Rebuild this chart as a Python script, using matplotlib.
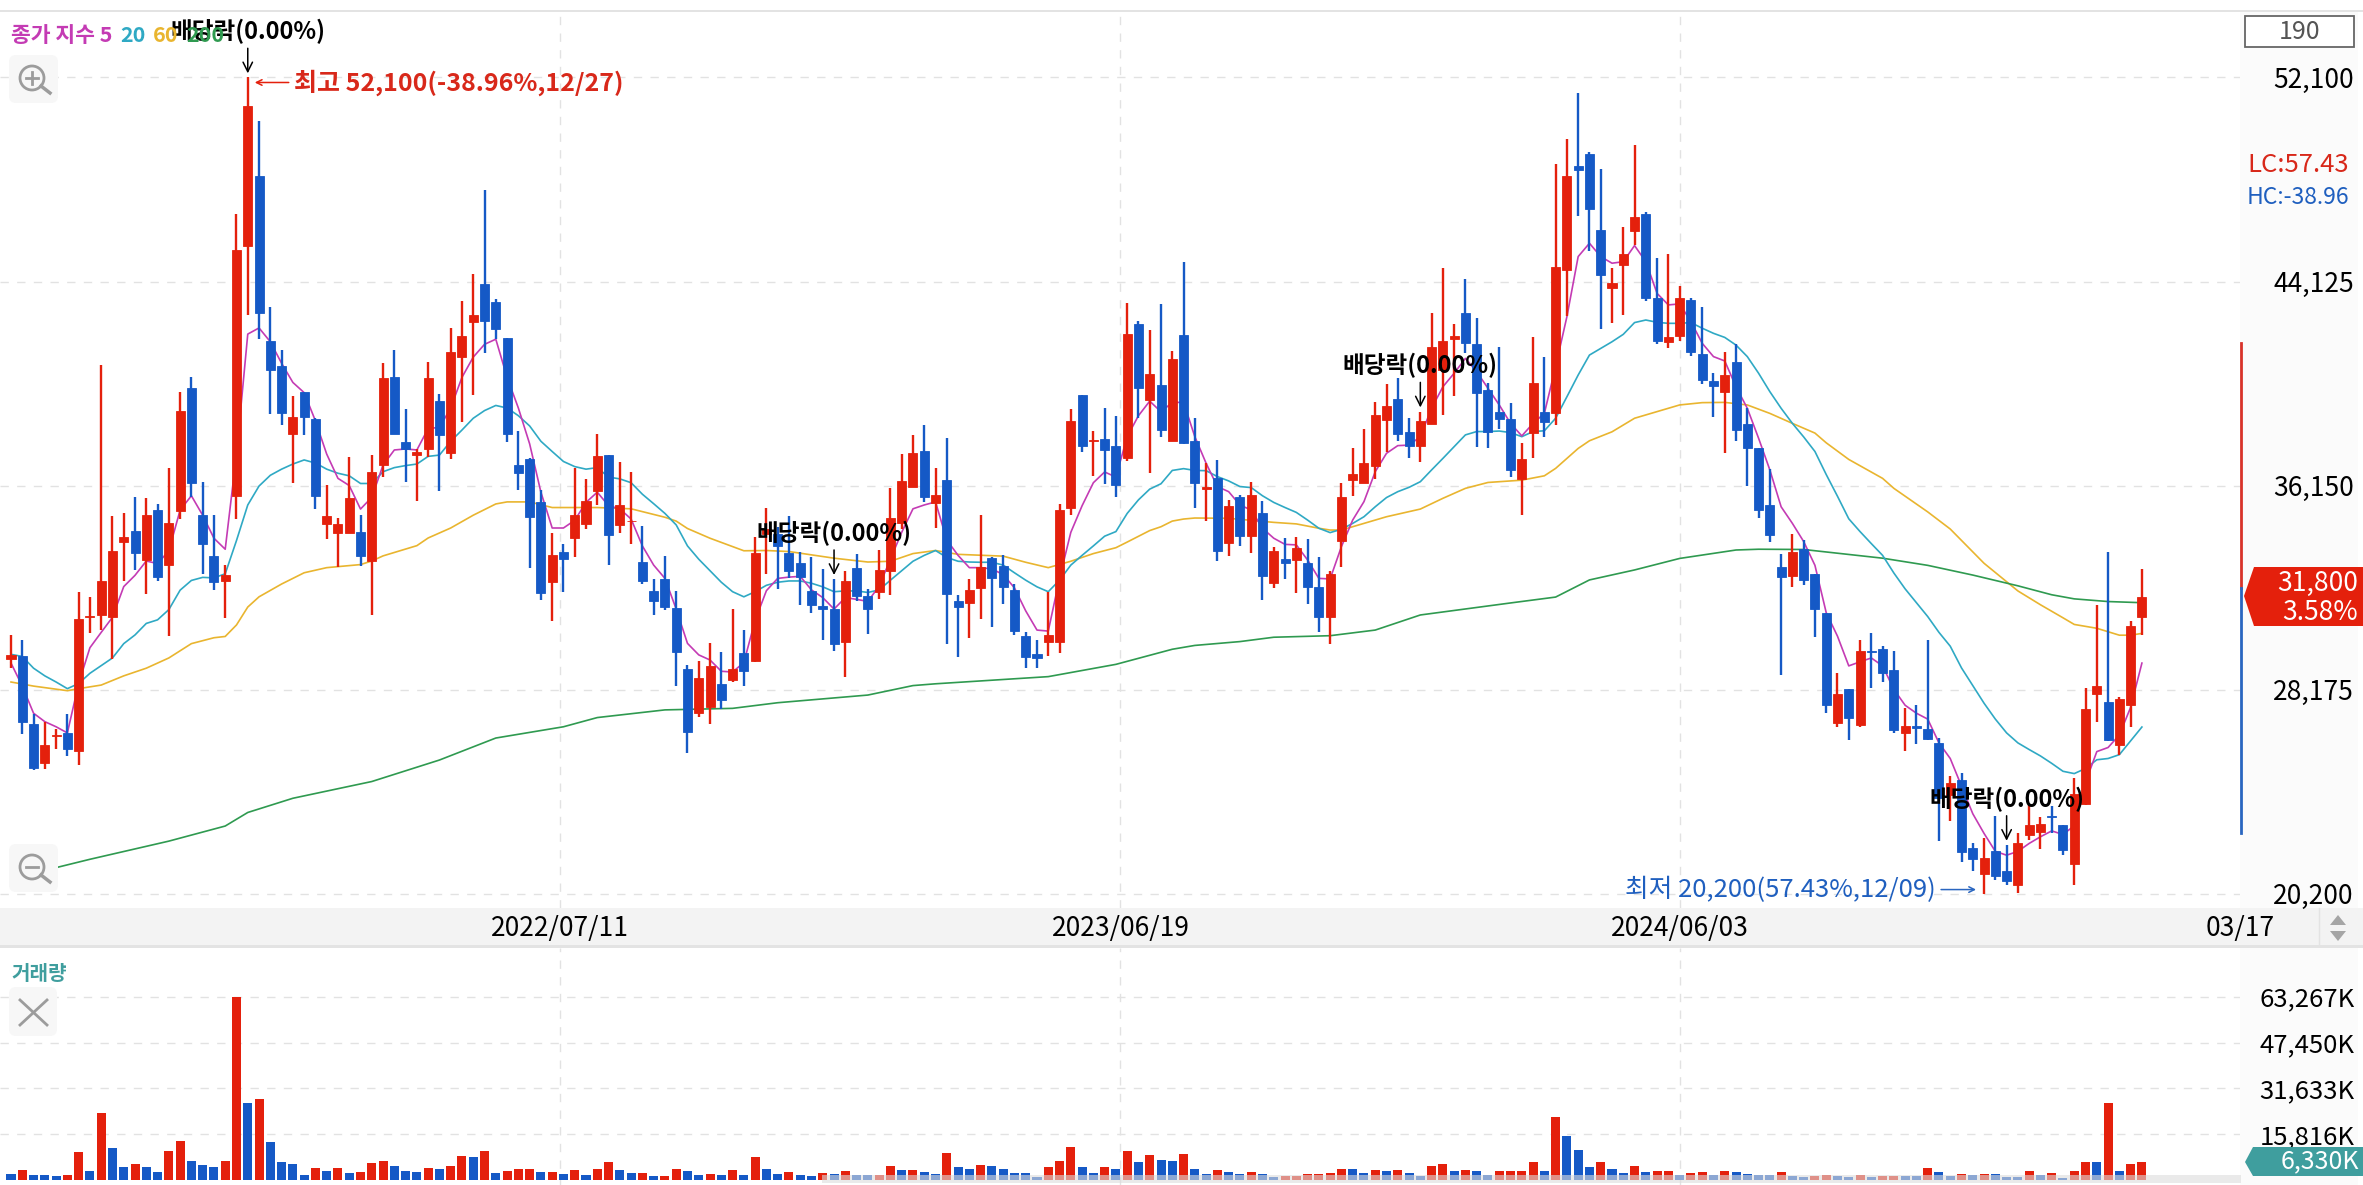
import matplotlib
matplotlib.use('Agg')
import matplotlib.pyplot as plt
import matplotlib.transforms as mtransforms
from matplotlib.patches import Rectangle, Polygon, Circle, FancyBboxPatch
from matplotlib.lines import Line2D

plt.rcParams['font.family'] = ['Noto Sans CJK KR', 'DejaVu Sans']

opens = [29350,29470,26820,25320,26340,26480,25760,31000,31100,31000,
         33930,34390,33240,35190,33040,35150,39980,34990,33400,32400,
         35730,45520,48250,41810,40810,38180,39820,38740,34650,34290,
         34290,34330,33200,36950,40400,37840,37330,37580,39460,37420,
         41170,42530,44040,43310,41930,36950,37170,35490,32360,33540,
         34090,34630,35930,37340,34610,34750,33180,32030,32490,31370,
         28980,27250,27480,28380,28540,29620,29290,34240,34240,33520,
         33120,32040,31430,31320,30050,32940,31850,32000,32820,34690,
         36110,37490,35470,36380,31620,31550,32150,33310,33000,32070,
         30280,29570,30050,30050,35260,39700,37910,37980,37710,37220,
         42470,39480,40080,37910,42020,37910,36010,36460,33920,35690,
         34190,35060,32330,33280,33240,33130,32170,31000,34000,36370,
         36260,36910,38710,39530,38240,37710,38560,40670,41870,42910,
         41700,39880,39010,38740,36390,38220,39040,38970,44580,48650,
         49100,46140,43860,44770,46110,46750,43490,41760,42010,43400,
         41290,40240,39820,40990,38540,37600,35390,32960,32600,33650,
         32680,31180,26860,28180,26790,29690,29760,28920,26490,26740,
         26620,26100,24050,24640,21990,20950,21880,21080,20540,22490,
         22590,23230,22880,21340,23700,27990,27670,26020,27560,31000]
closes = [29510,26920,25120,26020,26400,25860,30940,31040,32400,33600,
          34130,33500,34990,32560,34690,39080,36250,33880,32360,32640,
          45360,51000,42890,40670,38980,38840,38820,35730,34950,34650,
          35650,33400,36690,40360,38180,37580,37480,40360,38120,41370,
          41990,42810,42570,42270,38180,36630,34930,31960,33440,33260,
          34990,35530,37290,34210,35390,34780,32400,31650,31400,29650,
          26500,28640,29100,27770,28980,28890,33520,34470,33790,32790,
          32590,31470,31310,29950,32420,31850,31310,32860,34870,36340,
          37430,35710,35770,31920,31400,32070,32970,32520,32180,30460,
          29450,29410,30310,35180,38680,37710,37940,37530,36170,42080,
          39970,40520,38320,41080,37800,36260,36090,33600,35350,34190,
          35780,32610,33590,33110,33700,32200,31000,32690,35690,36590,
          37040,38910,39260,38160,37710,38690,41580,41800,42010,41710,
          39750,38260,38740,36760,37190,40150,38650,44690,48250,48480,
          46960,44380,44050,45190,46660,43470,41810,41940,43480,41380,
          40280,40050,40470,38320,37630,35190,34220,32570,33570,32450,
          31310,27560,28020,27070,29670,29640,28820,26600,26740,26680,
          26250,23920,24530,21840,21540,21580,20890,20690,22160,22880,
          22920,23190,21900,24080,27420,28330,26200,27820,30670,31800]
highs = [30310,30110,27220,26920,26620,27220,32000,31800,40870,34950,
         35090,35690,35650,35430,36850,39820,40380,36290,34990,33060,
         46760,52100,50410,43130,41450,39640,39820,38780,36190,34890,
         37250,34990,37340,40930,41450,39140,37580,40970,39740,42310,
         43370,44400,47710,43430,41930,38280,37230,35990,34290,33860,
         36850,36390,38180,37340,37080,36680,34580,32490,33390,32020,
         29130,29290,29980,29630,31320,30490,34120,35290,34540,34940,
         33570,33340,32890,32490,32820,33490,32120,33640,36040,37380,
         38130,38530,36830,38000,31880,32480,34990,33340,33420,32300,
         30430,30100,31970,35440,39130,39700,38280,39180,38880,43290,
         42570,42240,43250,41420,44890,38800,37020,37150,35580,35780,
         36300,35550,33730,34090,34120,34050,33340,32820,36240,37600,
         38350,39400,40110,40370,38800,39040,42910,44640,42450,44210,
         42690,40150,41550,39360,37800,41940,41190,48710,49700,51510,
         49200,48510,44640,46240,49450,46860,45030,45200,43950,43470,
         43140,40540,41380,41670,39170,37600,36780,33470,34270,34010,
         32700,31180,28840,28180,30100,30370,29870,29690,27440,27560,
         30100,26280,24800,24930,22190,22360,23230,22100,22580,23660,
         23180,23620,22880,24730,28220,31490,33570,27870,30870,32880]
lows = [29010,26420,25020,25080,25860,25560,25220,30370,30510,29370,
        32400,32860,31900,32400,30250,34830,35690,32700,32060,30960,
        34830,42830,41870,38940,38520,36250,38120,35250,34050,32960,
        34290,33000,31100,36490,38180,36290,35550,37280,35930,37190,
        38640,39680,41330,41870,37840,35990,32940,31660,30860,32000,
        33360,34450,35390,33040,34290,33870,32300,31100,31290,28330,
        25680,27120,26820,27400,28480,28300,29260,32700,32100,32550,
        31470,31170,30130,29680,28660,31620,30350,31700,31890,34470,
        36110,35510,34500,29950,29450,30200,30950,30610,31500,30310,
        29010,29010,29500,29600,34990,37460,36510,36220,35710,37110,
        38800,36630,38060,37910,37760,35260,34780,33200,33410,33800,
        33500,31680,32160,32500,31960,31520,30410,29960,32950,35750,
        36260,36410,37470,37900,37210,37060,38560,38910,39660,41320,
        37670,37600,38350,36500,35000,37210,38060,38520,42780,46700,
        45320,42270,42520,42820,45550,43380,41670,41510,41810,41210,
        40120,38820,37410,37900,36140,34870,33960,28760,32190,32260,
        30210,27250,26710,26220,26710,28250,28480,26480,25780,26060,
        26220,22260,23050,21450,21100,20200,20730,20540,20240,22290,
        21930,22580,21700,20540,23660,26900,26170,25600,26710,30290]

ma5 = [29210,28310,27250,26920,26720,26480,28410,29810,30410,31000,
       32200,32640,33200,33100,33600,35190,35750,34990,34090,33660,
       37380,42070,42310,41770,40930,40180,39780,38680,37380,36430,
       36150,35230,35690,36950,37540,37580,37540,38380,38420,39180,
       40380,41170,41670,41870,40380,39180,37780,35890,34490,34490,
       34790,35490,35890,35360,35240,34840,33790,33040,32520,31320,
       29980,29530,29330,28890,28860,29230,30880,32040,32520,32570,
       32600,32070,31770,31320,31770,31700,31620,32220,33270,34320,
       35240,35390,35510,34020,33420,32940,32940,32890,32670,32150,
       31250,30500,30460,32520,34320,35360,36260,36680,36480,38060,
       38880,39450,39030,39400,39400,38060,37020,36110,35910,35390,
       35190,34480,34090,33850,33830,33240,32520,32500,33760,34800,
       35520,36690,37410,37710,37730,38060,39170,40010,40540,41120,
       40600,39950,39300,38580,38090,38580,38970,40800,42750,45100,
       45620,45100,44840,44900,45530,44900,43660,43210,43250,42560,
       41710,41190,41020,40010,39170,38000,36760,35320,34670,33960,
       33030,31180,30260,29100,29260,29410,29100,28180,27560,27250,
       27020,26090,25480,24400,23320,22550,21850,21700,21850,22160,
       22420,22650,22510,22850,24550,25750,25910,26400,27480,29210]
ma20 = [29550,29470,29010,28710,28470,28210,28410,28810,29110,29410,
        29970,30310,30760,30900,31300,32060,32440,32560,32540,32700,
        34000,35390,36130,36550,36790,36990,37150,37030,36790,36630,
        36530,36230,36230,36690,36850,36930,36990,37290,37340,37880,
        38320,38780,39080,39280,39180,38880,38480,37880,37480,37090,
        36890,36790,36850,36480,36410,36260,35810,35440,35060,34610,
        33790,33270,32820,32370,32000,31800,32000,32250,32370,32420,
        32420,32330,32190,32000,32030,32030,31970,32070,32450,32820,
        33190,33420,33610,33340,33190,33160,33150,33150,33040,32740,
        32450,32190,32000,32450,33040,33420,33790,34170,34350,35060,
        35590,36010,36220,36740,36810,36740,36730,36500,36330,36110,
        36070,35750,35490,35290,35100,34800,34480,34310,34440,34670,
        34930,35320,35680,35910,36080,36300,36760,37210,37670,38130,
        38260,38260,38280,38220,38060,38260,38290,38780,39620,40470,
        41250,41510,41770,42060,42520,42620,42530,42490,42490,42520,
        42300,42100,41940,41640,41190,40540,39820,39170,38580,38050,
        37480,36580,35730,34850,34350,33880,33420,32730,32110,31570,
        31030,30410,29870,29020,28330,27640,27020,26480,26090,25830,
        25580,25290,24980,24890,25090,25430,25480,25630,26170,26710]
ma60_x = [0,2,5,6,8,10,12,14,16,18,19,20,21,22,24,26,28,31,32,33,36,37,39,41,43,44,46,48,52,
          55,58,59,60,62,65,67,69,73,76,78,80,82,84,88,90,92,94,96,98,99,101,102,103,104,105,
          108,112,114,116,117,118,120,122,125,127,129,131,134,136,137,139,140,142,144,146,148,150,152,154,156,158,
          160,161,163,166,167,170,172,175,178,180,182,183,185,187,188,189]
ma60 = [28470,28310,28130,28210,28350,28710,29010,29410,29970,30200,30250,30700,31400,31800,32300,32740,32940,33060,33200,33400,33800,34100,34490,34990,35430,35510,35510,35290,35290,
        35240,34910,34760,34470,34090,33600,33610,33570,33310,33160,33190,33490,33610,33460,33390,33150,32940,33190,33490,33720,33940,34390,34540,34760,34840,34880,
        34870,34710,34650,34480,34410,34410,34670,34930,35230,35650,36040,36270,36360,36530,36820,37600,37900,38250,38780,39040,39300,39390,39400,39300,38970,38580,
        38200,37820,37170,36430,36040,35120,34450,33110,32030,31490,30980,30720,30570,30300,30300,30370]
ma200_x = [0,7,14,19,21,25,32,38,43,49,52,58,64,68,76,80,82,92,98,103,105,109,112,117,121,125,133,137,140,144,148,153,155,159,166,170,174,178,181,183,186,189]
ma200 = [20780,21540,22250,22840,23370,23925,24580,25420,26280,26720,27080,27380,27440,27660,27960,28330,28400,28680,29160,29750,29900,30050,30220,30280,30500,31090,31560,31790,32460,32850,33300,33630,33660,33650,33310,33030,32650,32230,31880,31720,31615,31570]

# volume in thousands
volumes = [1960,3460,1730,1610,1380,1610,9680,3000,23160,10940,
           4610,5410,4380,2760,9910,13360,6570,5070,4610,6680,
           63267,26730,27880,13020,6110,5640,1610,4150,3230,4030,
           2530,2650,5760,6450,4840,3110,2760,4150,3690,4720,
           8180,7830,9910,2300,3230,3690,3800,2760,2880,2070,
           3460,1610,3800,6220,3460,2300,2420,1380,1500,3800,
           3110,1610,2190,1730,3460,1730,7950,3690,2070,2760,
           1610,1380,2420,2190,3000,1730,1610,1840,4720,3340,
           3460,2880,2070,9330,4490,3800,5180,4840,3800,2420,
           2300,1150,4490,6680,11290,4490,2530,4610,3690,10020,
           6340,8760,6800,6680,8990,3800,2190,3570,2760,2190,
           2650,2190,1150,1270,1500,1960,2070,2300,3800,3680,
           2530,3340,3110,3450,2420,1500,4720,5410,3110,3340,
           2990,1730,3000,3110,3220,6100,2990,21740,15180,10470,
           4490,6100,3680,2530,4950,2760,3110,3220,1730,2420,
           2650,1730,3110,2760,2190,1840,1730,2650,1270,1150,
           1380,1840,1380,1040,1730,1150,1270,1500,1380,1270,
           4260,2650,1380,1960,1730,2190,2180,1150,1040,3110,
           1610,2300,810,3110,6330,6210,26450,3110,5520,6330]

price_ticks = [52100, 44125, 36150, 28175, 20200]
volume_ticks = [63267, 47450, 31633, 15816]
date_pos = [48.72, 98.4, 148.0, 197.7]
date_labels = ['2022/07/11', '2023/06/19', '2024/06/03', '03/17']
dividend_idx = [21, 73, 125, 177]

RED = '#e4200c'
BLUE = '#1559c6'
TEAL = '#3f9e9e'
GRID = '#e2e2e2'
C5, C20, C60, C200 = '#c43bb4', '#2fa9c4', '#e9b52f', '#2f9a50'

W, H = 2363, 1185
fig = plt.figure(figsize=(W / 100, H / 100), dpi=100, facecolor='white')
# pixel transform for the chrome around the plots (origin top left)
px = mtransforms.Affine2D().scale(1, -1).translate(0, H)

ax = fig.add_axes([0, (H - 908) / H, 2240 / W, (908 - 12) / H])
vax = fig.add_axes([0, 0, 2240 / W, (H - 948) / H], sharex=ax)
for a in (ax, vax):
    a.patch.set_visible(False)
    for s in a.spines.values():
        s.set_visible(False)
    a.set_axisbelow(True)
    a.yaxis.tick_right()
    a.grid(True, axis='y', color=GRID, lw=1, linestyle=(0, (6, 6)))
    for p in date_pos[:3]:
        a.axvline(p, color=GRID, lw=1, linestyle=(0, (6, 6)), zorder=0.5)

ax.set_xlim(-11 / 11.28, (2240 - 11) / 11.28)
ax.set_ylim(19636, 54660)
vax.set_ylim(-1726, 80085)

# moving averages sit under the candles
x = list(range(len(closes)))
ax.plot(ma60_x, ma60, color=C60, lw=1.2, zorder=1)
ax.plot(ma200_x, ma200, color=C200, lw=1.2, zorder=1)
ax.plot(x, ma20, color=C20, lw=1.2, zorder=1.1)
ax.plot(x, ma5, color=C5, lw=1.2, zorder=1.2)

cols = [RED if c >= o else BLUE for o, c in zip(opens, closes)]
ax.vlines(x, lows, highs, colors=cols, lw=1.7, zorder=2)
ax.bar(x, [abs(c - o) for o, c in zip(opens, closes)], bottom=[min(o, c) for o, c in zip(opens, closes)],
       width=0.8, color=cols, edgecolor=cols, lw=0.6, zorder=3)

vcols = [BLUE if i == 0 or volumes[i] <= volumes[i - 1] else RED for i in x]
vax.bar(x, volumes, width=0.8, color=vcols, zorder=2)

ax.set_yticks(price_ticks, [f'{v:,}' for v in price_ticks])
ax.tick_params(axis='y', length=0, pad=24, labelsize=19)
vax.set_yticks(volume_ticks, [f'{v:,}K' for v in volume_ticks])
vax.tick_params(axis='y', length=0, pad=14, labelsize=18.5)
ax.set_xticks(date_pos, date_labels)
ax.tick_params(axis='x', length=0, pad=5, labelsize=19)
vax.tick_params(axis='x', length=0, labelbottom=False)

# dividend markers
for i in dividend_idx:
    ax.annotate('배당락(0.00%)', xy=(i, highs[i]), xytext=(0, 46), textcoords='offset pixels',
                ha='center', va='center', fontsize=17, fontweight='bold', color='black', zorder=6,
                arrowprops=dict(arrowstyle='->', color='black', lw=1.1, shrinkA=1, shrinkB=3))


def shifted(dx, dy):
    return mtransforms.offset_copy(ax.transData, fig, x=dx, y=dy, units='dots')


# highest / lowest labels
hi = highs.index(max(highs))
lo = lows.index(min(lows))
ax.annotate('', xy=(hi, highs[hi]), xycoords=shifted(7, -5), xytext=(hi, highs[hi]), textcoords=shifted(41, -5),
            arrowprops=dict(arrowstyle='->', color=RED, lw=1.1, shrinkA=0, shrinkB=0), zorder=6)
ax.text(hi, highs[hi], '최고 52,100(-38.96%,12/27)', transform=shifted(46, -5), ha='left', va='center',
        fontsize=18, fontweight='bold', color='#d8281a', zorder=6)
ax.annotate('', xy=(lo, lows[lo]), xycoords=shifted(-8, 4), xytext=(lo, lows[lo]), textcoords=shifted(-43, 4),
            arrowprops=dict(arrowstyle='->', color='#2a66c0', lw=1.1, shrinkA=0, shrinkB=0), zorder=6)
ax.text(lo, lows[lo], '최저 20,200(57.43%,12/09)', transform=shifted(-48, 4), ha='right', va='center',
        fontsize=18.5, color='#1f5fbf', zorder=6)

# range bar next to the axis
ax.plot([197.8, 197.8], [32150, 41720], color='#d8332a', lw=2, clip_on=False, zorder=4)
ax.plot([197.8, 197.8], [22570, 32150], color='#2a66c0', lw=2, clip_on=False, zorder=4)

# chrome
fig.add_artist(Rectangle((2240, 12), 118, 896, transform=px, fc='#fbfbfb', ec='none', zorder=-2))
fig.add_artist(Rectangle((2240, 948), 118, 237, transform=px, fc='#fbfbfb', ec='none', zorder=-2))
fig.add_artist(Rectangle((0, 908), W, 38, transform=px, fc='#f3f3f3', ec='none', zorder=-1))
fig.add_artist(Rectangle((0, 945), W, 3, transform=px, fc='#e3e3e3', ec='none', zorder=-1))
fig.add_artist(Rectangle((0, 10), W, 2, transform=px, fc='#e3e3e3', ec='none', zorder=-1))
fig.add_artist(Line2D([2319, 2319], [908, 945], transform=px, color='#e3e3e3', lw=1))
fig.add_artist(Polygon([(2330, 925), (2346, 925), (2338, 915)], transform=px, fc='#a5a5a5', ec='none'))
fig.add_artist(Polygon([(2330, 931), (2346, 931), (2338, 941)], transform=px, fc='#a5a5a5', ec='none'))
# scroll bar washes out the foot of the volume bars
fig.add_artist(Rectangle((822, 1175), 1419, 8, transform=px, fc='#dcdcdc', alpha=0.6, ec='none', zorder=5))

fig.add_artist(Rectangle((2245, 16), 109, 31, transform=px, fc='white', ec='#666666', lw=1.3, zorder=2))
fig.text(2300, 32, '190', transform=px, ha='center', va='center', fontsize=18, color='#555555', zorder=3)
fig.text(2247, 165, 'LC:57.43', transform=px, ha='left', va='center', fontsize=18.5, color='#d8281a', zorder=3)
fig.text(2247, 197, 'HC:-38.96', transform=px, ha='left', va='center', fontsize=16.5, color='#1f5fbf', zorder=3)

fig.add_artist(Polygon([(2244, 596), (2254, 567), (2363, 567), (2363, 626), (2254, 626)], transform=px, fc=RED, ec='none', zorder=3))
fig.text(2358, 583, f'{closes[-1]:,}', transform=px, ha='right', va='center', fontsize=19, color='white', zorder=4)
fig.text(2358, 613, '3.58%', transform=px, ha='right', va='center', fontsize=19, color='white', zorder=4)
fig.add_artist(Polygon([(2245, 1162), (2253, 1147), (2363, 1147), (2363, 1176), (2253, 1176)], transform=px, fc=TEAL, ec='none', zorder=3))
fig.text(2359, 1161, f'{volumes[-1]:,}K', transform=px, ha='right', va='center', fontsize=18, color='white', zorder=4)

# legend text
legend_items = [(11, '종가 지수 5', C5), (120, '20', C20), (153, '60', C60), (186, '200', C200)]
for lx, label, c in legend_items:
    fig.text(lx, 36, label, transform=px, ha='left', va='center', fontsize=15.5, color=c, fontweight='bold', zorder=3)
fig.text(11, 973, '거래량', transform=px, ha='left', va='center', fontsize=14.5, color=TEAL, fontweight='bold', zorder=3)

# zoom buttons
GREY = '#9c9c9c'
for cy, sign in ((78, '+'), (867, '-')):
    fig.add_artist(FancyBboxPatch((9, cy - 23), 49, 48, boxstyle='round,pad=0,rounding_size=7', transform=px,
                                  fc='#f7f7f7', ec='none', zorder=1))
    fig.add_artist(Circle((32, cy), 12, transform=px, fc='none', ec=GREY, lw=2, zorder=2))
    fig.add_artist(Line2D([41, 50], [cy + 8, cy + 15], transform=px, color=GREY, lw=2.5, zorder=2))
    fig.add_artist(Line2D([26, 38], [cy, cy], transform=px, color=GREY, lw=2, zorder=2))
    if sign == '+':
        fig.add_artist(Line2D([32, 32], [cy - 6, cy + 6], transform=px, color=GREY, lw=2, zorder=2))
fig.add_artist(FancyBboxPatch((9, 987), 48, 49, boxstyle='round,pad=0,rounding_size=7', transform=px,
                              fc='#f7f7f7', ec='none', zorder=1))
fig.add_artist(Line2D([20, 47], [1000, 1025], transform=px, color=GREY, lw=2, zorder=2))
fig.add_artist(Line2D([20, 47], [1025, 1000], transform=px, color=GREY, lw=2, zorder=2))

fig.savefig('out.png', dpi=100)
